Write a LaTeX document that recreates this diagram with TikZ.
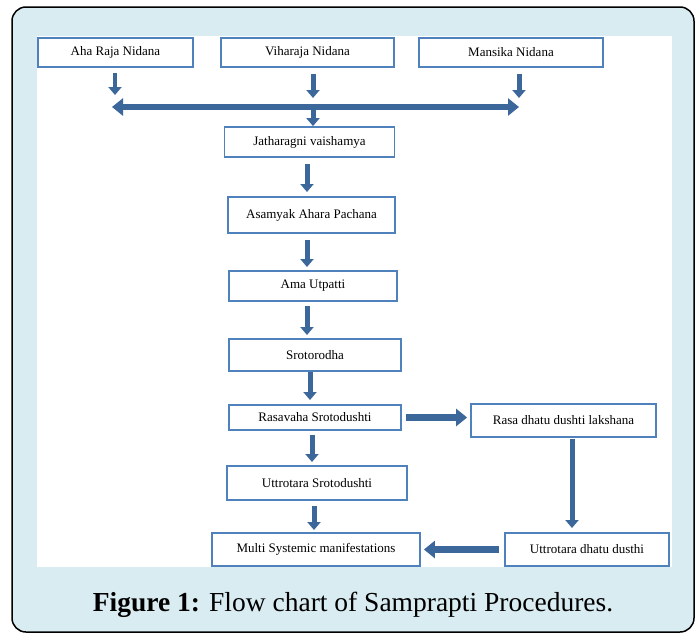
\documentclass[tikz,border=0pt]{standalone}
\usepackage{fontspec}
\setmainfont{Liberation Serif}
\usetikzlibrary{arrows.meta}
\definecolor{framefill}{HTML}{D9ECF2}
\definecolor{boxline}{HTML}{4F81BD}
\definecolor{arrowblue}{HTML}{3B679B}

\begin{document}
\begin{tikzpicture}[
    x=1pt, y=-1pt,
    box/.style={rectangle, draw=boxline, line width=1.8pt, fill=white, minimum height=30pt, inner sep=0pt, align=center, font=\fontsize{13}{15}\selectfont},
    arrow/.style={-{Triangle[length=8pt,width=13pt]}, line width=5pt, arrowblue},
    bigarrow/.style={-{Triangle[length=11pt,width=17pt]}, line width=7pt, arrowblue}
]
    \useasboundingbox (0,0) rectangle (699,640);
    % Frame
    \draw[fill=framefill, line width=1.5pt, rounded corners=14pt] (12,7) rectangle (694,632);
    \fill[white] (37,36) rectangle (672,567);

    % Nidana row
    \node[box, minimum width=155pt, minimum height=29pt] (aha) at (115.5,52.5) {Aha Raja Nidana};
    \node[box, minimum width=173pt, minimum height=29pt] (vihara) at (307.5,52.5) {Viharaja Nidana};
    \node[box, minimum width=184pt, minimum height=29pt] (mansika) at (511,52.5) {Mansika Nidana};

    % Main chain
    \node[box, minimum width=170pt] (jathar) at (309.5,142) {Jatharagni vaishamya};
    \node[box, minimum width=167pt, minimum height=36pt] (asamyak) at (311.5,215) {Asamyak Ahara Pachana};
    \node[box, minimum width=168pt] (ama) at (313,286) {Ama Utpatti};
    \node[box, minimum width=172pt, minimum height=32pt] (srotorodha) at (315,355) {Srotorodha};
    \node[box, minimum width=172pt, minimum height=25pt] (rasavaha) at (315,417.5) {Rasavaha Srotodushti};
    \node[box, minimum width=180pt, minimum height=34pt] (uttsroto) at (317,483) {Uttrotara Srotodushti};
    \node[box, minimum width=208pt, minimum height=33pt] (multi) at (316,549.5) {Multi Systemic manifestations};

    % Side branch
    \node[box, minimum width=185pt, minimum height=33pt] (rasadhatu) at (563.5,420.5) {Rasa dhatu dushti lakshana};
    \node[box, minimum width=164pt, minimum height=33pt] (uttdhatu) at (587,549.5) {Uttrotara dhatu dusthi};

    % Collecting bar
    \coordinate (barL) at (112,107);
    \coordinate (barM) at (313,107);
    \coordinate (barR) at (519,107);
    \coordinate (ahaT) at (115,95);
    \coordinate (viharaT) at (313,98);
    \coordinate (mansikaT) at (519,98);

    % Arrows
    \draw[arrow, line width=4pt] ([yshift=-5pt]aha.south -| ahaT) -- (ahaT);
    \draw[arrow] ([yshift=-6pt]vihara.south -| viharaT) -- (viharaT);
    \draw[arrow] ([yshift=-6pt]mansika.south -| mansikaT) -- (mansikaT);
    \draw[{Triangle[length=11pt,width=17pt]}-{Triangle[length=11pt,width=17pt]}, line width=6pt, arrowblue] (barL) -- (barR);
    \draw[arrow] (barM) -- (barM |- jathar.north);
    \draw[arrow] ([yshift=-6pt]jathar.south -| 307,0) -- (307,192);
    \draw[arrow] ([yshift=-6pt]asamyak.south -| 307,0) -- (307,267);
    \draw[arrow] ([yshift=-4pt]ama.south -| 307,0) -- (307,335);
    \draw[arrow] (srotorodha.south -| 310,0) -- (310,400);
    \draw[bigarrow] ([xshift=4pt]rasavaha.east) -- ([xshift=-3pt]rasadhatu.west |- rasavaha.east);
    \draw[arrow] ([yshift=-4pt]rasavaha.south -| 312,0) -- (312,462);
    \draw[arrow] ([yshift=-5pt]uttsroto.south -| 314,0) -- (314,530);
    \draw[arrow] ([yshift=-1pt]rasadhatu.south -| 572,0) -- (572,528);
    \draw[bigarrow] ([xshift=-5pt]uttdhatu.west) -- ([xshift=3pt]multi.east);

    % Caption
    \node[font=\fontsize{27.5}{32}\selectfont] (caption) at (353,605) {\textbf{Figure 1:} Flow chart of Samprapti Procedures.};
\end{tikzpicture}
\end{document}
